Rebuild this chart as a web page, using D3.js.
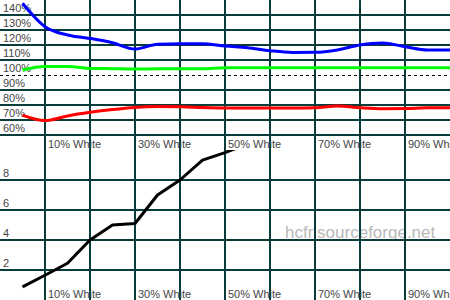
<!DOCTYPE html>
<html>
<head>
<meta charset="utf-8">
<script src="https://cdn.jsdelivr.net/npm/d3@7"></script>
<style>
  html, body { margin: 0; padding: 0; background: #fff; }
  svg { display: block; }
  .lbl { font-family: "Liberation Sans", Arial, sans-serif; font-size: 11px; fill: #454545; }
</style>
</head>
<body>
<div id="chart"></div>
<script>
// grayscale steps, % white
const steps = [5, 10, 15, 20, 25, 30, 35, 40, 45, 50, 55, 60, 65, 70, 75, 80, 85, 90, 95, 100];

// RGB levels (%)
const redLevels = [73.3, 69.6, 72.7, 75.1, 77.0, 78.4, 79.0, 78.9, 78.3, 78.0, 78.0, 78.0, 78.0, 78.2, 79.3, 78.2, 77.5, 77.6, 78.2, 78.2];
const greenLevels = [103.3, 105.6, 105.6, 104.4, 104.2, 104.0, 104.1, 104.1, 104.1, 104.9, 104.9, 104.9, 104.9, 104.9, 104.9, 104.9, 104.9, 104.9, 104.9, 104.9];
const blueLevels = [147.8, 132.2, 126.7, 124.4, 121.5, 117.3, 120.5, 120.9, 120.9, 119.3, 118.2, 116.2, 115.0, 115.1, 116.7, 120.0, 121.3, 118.9, 116.7, 116.7];

// luminance (lower panel)
const lumSteps = [5, 10, 15, 20, 25, 30, 35, 40, 45, 50, 55];
const lumValues = [0.87, 1.65, 2.45, 4.0, 5.0, 5.1, 7.0, 8.0, 9.33, 9.83, 10.4];

const xTicks = [10, 20, 30, 40, 50, 60, 70, 80, 90];
const xLabels = [10, 30, 50, 70, 90];
const levelTicks = [60, 70, 80, 90, 100, 110, 120, 130, 140];
const lumTicks = [2, 4, 6, 8];

const W = 450, H = 300;
const gridColor = '#0a3c3c';

const svg = d3.select('#chart').append('svg')
    .attr('width', W).attr('height', H);

const x = d3.scaleLinear().domain([0, 100]).range([0, W]);
const yTop = d3.scaleLinear().domain([50, 150]).range([150, 0]);
const yBot = d3.scaleLinear().domain([0, 10]).range([300, 150]);

svg.append('clipPath').attr('id', 'clipTop')
    .append('rect').attr('x', 0).attr('y', 0).attr('width', W).attr('height', 150);
svg.append('clipPath').attr('id', 'clipBot')
    .append('rect').attr('x', 0).attr('y', 150).attr('width', W).attr('height', 150);

// watermark sits under the grid
svg.append('text')
    .attr('x', 285).attr('y', 238)
    .attr('font-family', '"Liberation Sans", Arial, sans-serif')
    .attr('font-size', 17)
    .attr('fill', '#b8b8b8')
    .text('hcfr.sourceforge.net');

// Grid
const grid = svg.append('g').attr('stroke', gridColor).attr('stroke-width', 2);
grid.selectAll('line.v').data(xTicks).enter().append('line')
    .attr('class', 'v')
    .attr('x1', (d) => x(d)).attr('x2', (d) => x(d))
    .attr('y1', 0).attr('y2', H);
grid.selectAll('line.ht').data(levelTicks.filter((d) => d !== 100)).enter().append('line')
    .attr('class', 'ht')
    .attr('x1', 0).attr('x2', W)
    .attr('y1', (d) => yTop(d)).attr('y2', (d) => yTop(d));
grid.selectAll('line.hb').data(lumTicks).enter().append('line')
    .attr('class', 'hb')
    .attr('x1', 0).attr('x2', W)
    .attr('y1', (d) => yBot(d)).attr('y2', (d) => yBot(d));

// reference 100% line
svg.append('line')
    .attr('x1', 0).attr('x2', W)
    .attr('y1', yTop(100) + 0.5).attr('y2', yTop(100) + 0.5)
    .attr('stroke', '#000').attr('stroke-width', 1)
    .attr('shape-rendering', 'crispEdges')
    .attr('stroke-dasharray', '3,3');

// Labels
svg.selectAll('text.yl').data(levelTicks).enter().append('text')
    .attr('class', 'lbl yl')
    .attr('x', 3).attr('y', (d) => yTop(d) - 3)
    .text((d) => `${d}%`);
svg.selectAll('text.yb').data(lumTicks).enter().append('text')
    .attr('class', 'lbl yb')
    .attr('x', 3).attr('y', (d) => yBot(d) - 3)
    .text((d) => `${d}`);
svg.selectAll('text.xt').data(xLabels).enter().append('text')
    .attr('class', 'lbl xt')
    .attr('x', (d) => x(d) + 3).attr('y', yTop(50) - 2)
    .text((d) => `${d}% White`);
svg.selectAll('text.xb').data(xLabels).enter().append('text')
    .attr('class', 'lbl xb')
    .attr('x', (d) => x(d) + 3).attr('y', yBot(0) - 2)
    .text((d) => `${d}% White`);

// RGB level lines
const levelLine = d3.line()
    .x((d, i) => x(steps[i]))
    .y((d) => yTop(d))
    .curve(d3.curveMonotoneX);

const topG = svg.append('g').attr('clip-path', 'url(#clipTop)');
[
    { values: greenLevels, color: '#00ff00' },
    { values: redLevels, color: '#ff0000' },
    { values: blueLevels, color: '#0000ff' }
].forEach((s) => {
    topG.append('path')
        .datum(s.values)
        .attr('d', levelLine)
        .attr('fill', 'none')
        .attr('stroke', s.color)
        .attr('stroke-width', 3);
});

// luminance line
const lumLine = d3.line()
    .x((d, i) => x(lumSteps[i]))
    .y((d) => yBot(d));

svg.append('g').attr('clip-path', 'url(#clipBot)')
    .append('path')
    .datum(lumValues)
    .attr('d', lumLine)
    .attr('fill', 'none')
    .attr('stroke', '#000')
    .attr('stroke-width', 3)
    .attr('stroke-linejoin', 'round');
</script>
</body>
</html>
